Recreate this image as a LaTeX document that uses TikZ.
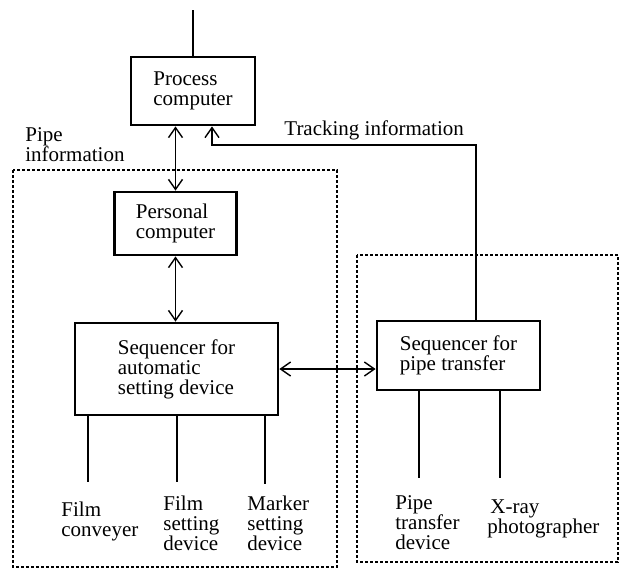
\documentclass[tikz,border=0pt]{standalone}
\usepackage{fontspec}
\setmainfont{Liberation Serif}
\usetikzlibrary{shapes,arrows.meta,positioning}

\begin{document}
\begin{tikzpicture}[x=0.5pt, y=-0.5pt, >={Straight Barb[length=5pt,width=7pt]}, font=\fontsize{10.5}{10}\selectfont]
			\tikzset{
				unit/.style={rectangle, draw=black, line width=1.4pt, align=left, inner sep=0pt},
				note/.style={align=left, inner sep=0pt},
				group/.style={draw=black, line width=0.6pt, dash pattern=on 1.5pt off 1pt},
				line/.style={line width=0.7pt},
			}
			\useasboundingbox (0,0) rectangle (631,570);
			%Dashed groups
			\draw[group] (13,170) rectangle (337,567);
			\draw[group] (357,255) rectangle (618,562);
			%Units
			\node[unit, minimum width=62pt, minimum height=34pt](proc) at (193,91) {Process\\computer};
			\node[unit, minimum width=61pt, minimum height=31.5pt](pc) at (175.5,223.5) {Personal\\computer};
			\node[unit, minimum width=101.5pt, minimum height=46pt](seqauto) at (176.5,369) {Sequencer for\\automatic\\setting device};
			\node[unit, minimum width=81.5pt, minimum height=34.5pt](seqpipe) at (458.5,355.5) {Sequencer for\\pipe transfer};
			%Texts
			\node[note, anchor=north west](pipeinfo) at (25,127) {Pipe\\information};
			\node[note, anchor=base west](trackinfo) at (284,135) {Tracking information};
			\node[note, anchor=north west](filmconv) at (61,502) {Film\\conveyer};
			\node[note, anchor=north west](filmset) at (163,496) {Film\\setting\\device};
			\node[note, anchor=north west](markset) at (247,496) {Marker\\setting\\device};
			\node[note, anchor=north west](pipedev) at (395,495) {Pipe\\transfer\\device};
			\node[note, anchor=north west](xray) at (487,499) {\hspace{1.5pt}X-ray\\photographer};
			%Free ends
			\coordinate (top) at (193,10);
			\coordinate (trk) at (476,145);
			\coordinate (fc) at (88,482);
			\coordinate (fs) at (177,482);
			\coordinate (ms) at (265,484);
			\coordinate (pt) at (419,478);
			\coordinate (xr) at (500,478);
			%Draw arrows
			\draw[line] (top) -- (proc.north);
			\draw[line,<->] (pc.north) -- (pc.north |- proc.south);
			\draw[line,<->] (pc.south) -- (pc.south |- seqauto.north);
			\draw[line,->] (seqpipe.north -| trk) -- (trk) -| ([xshift=9.5pt]proc.south);
			\draw[line,<->] (seqauto.east) -- (seqauto.east -| seqpipe.west);
			\draw[line] (seqauto.south -| fc) -- (fc);
			\draw[line] (seqauto.south -| fs) -- (fs);
			\draw[line] (seqauto.south -| ms) -- (ms);
			\draw[line] (seqpipe.south -| pt) -- (pt);
			\draw[line] (seqpipe.south -| xr) -- (xr);
		\end{tikzpicture}
\end{document}
